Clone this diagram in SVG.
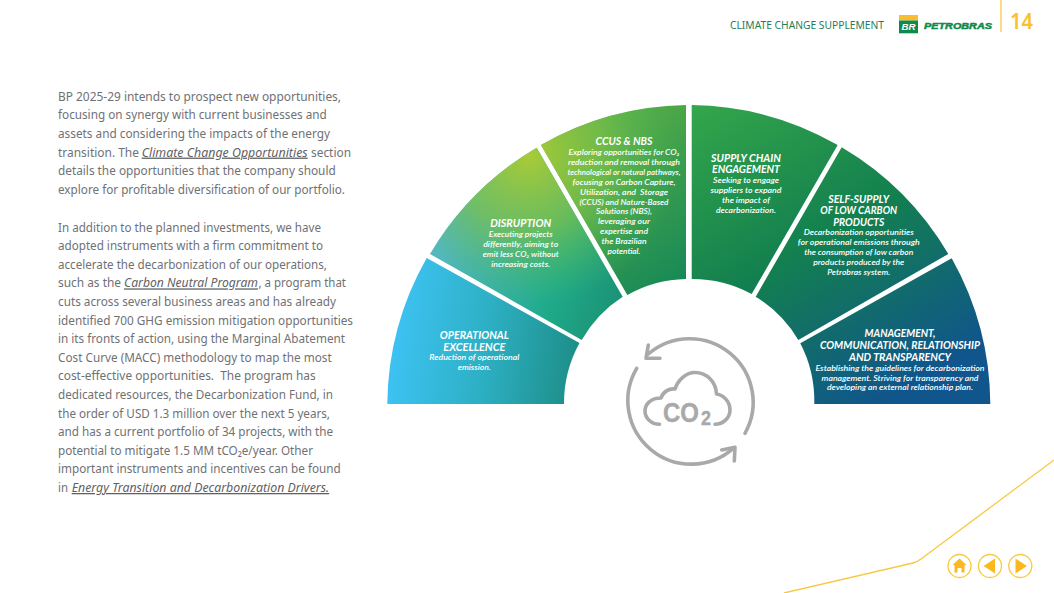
<svg xmlns="http://www.w3.org/2000/svg" width="1054" height="593" viewBox="0 0 1054 593">
<style>
.b{font:400 12.8px "Noto Sans",sans-serif;fill:#6f7174;white-space:pre}
.l{font-style:italic;text-decoration:underline;fill:#5f6164}
.t{font:italic 700 10.5px Lato,sans-serif;fill:#fff;text-anchor:middle}
.d{font:italic 600 8.2px Lato,sans-serif;fill:#fff;text-anchor:middle;white-space:pre}
.y{fill:none;stroke:#f6c93f;stroke-width:1.3}
.g{fill:none;stroke:#a9a9a9;stroke-width:3.6;stroke-linecap:round;stroke-linejoin:round}
.c{font-family:"Liberation Sans",sans-serif;font-weight:700;fill:#a9a9a9}
.i{fill:#fbb91f}
</style>
<defs>
<linearGradient id="g1" gradientUnits="userSpaceOnUse" x1="395" y1="370" x2="585" y2="395"><stop offset="0" stop-color="#3cc1f0"/><stop offset=".45" stop-color="#2db0c4"/><stop offset="1" stop-color="#1b8a80"/></linearGradient>
<linearGradient id="g2" gradientUnits="userSpaceOnUse" x1="435" y1="255" x2="620" y2="325"><stop offset="0" stop-color="#55b8d2"/><stop offset=".62" stop-color="#1fab8b"/><stop offset="1" stop-color="#1b8f72"/></linearGradient>
<linearGradient id="g3" gradientUnits="userSpaceOnUse" x1="590" y1="130" x2="690" y2="285"><stop offset="0" stop-color="#55ac45"/><stop offset="1" stop-color="#158858"/></linearGradient>
<radialGradient id="ye" gradientUnits="userSpaceOnUse" cx="528" cy="155" r="150"><stop offset="0" stop-color="#a9cb35"/><stop offset=".5" stop-color="#7cc04a" stop-opacity=".75"/><stop offset="1" stop-color="#4cb85a" stop-opacity="0"/></radialGradient>
<linearGradient id="gr" gradientUnits="userSpaceOnUse" x1="700" y1="105" x2="880" y2="405"><stop offset="0" stop-color="#33a54a"/><stop offset=".5" stop-color="#13804f"/><stop offset="1" stop-color="#10558b"/></linearGradient>
</defs>
<g id="text-block">
<text class="b" x="58" y="100.5" textLength="283" lengthAdjust="spacingAndGlyphs">BP 2025-29 intends to prospect new opportunities,</text>
<text class="b" x="58" y="119.2" textLength="268.7" lengthAdjust="spacingAndGlyphs">focusing on synergy with current businesses and</text>
<text class="b" x="58" y="137.9" textLength="272" lengthAdjust="spacingAndGlyphs">assets and considering the impacts of the energy</text>
<text class="b" x="58" y="156.6" textLength="81" lengthAdjust="spacingAndGlyphs">transition. The</text>
<text class="b l" x="141.7" y="156.6" textLength="166" lengthAdjust="spacingAndGlyphs">Climate Change Opportunities</text>
<text class="b" x="311" y="156.6" textLength="40" lengthAdjust="spacingAndGlyphs">section</text>
<text class="b" x="58" y="175.3" textLength="277.7" lengthAdjust="spacingAndGlyphs">details the opportunities that the company should</text>
<text class="b" x="58" y="194" textLength="287" lengthAdjust="spacingAndGlyphs">explore for profitable diversification of our portfolio.</text>
<text class="b" x="58" y="231.6" textLength="263" lengthAdjust="spacingAndGlyphs">In addition to the planned investments, we have</text>
<text class="b" x="58" y="250.2" textLength="265" lengthAdjust="spacingAndGlyphs">adopted instruments with a firm commitment to</text>
<text class="b" x="58" y="268.8" textLength="269" lengthAdjust="spacingAndGlyphs">accelerate the decarbonization of our operations,</text>
<text class="b" x="58" y="287.4" textLength="63" lengthAdjust="spacingAndGlyphs">such as the</text>
<text class="b l" x="124" y="287.4" textLength="134" lengthAdjust="spacingAndGlyphs">Carbon Neutral Program</text>
<text class="b" x="258.5" y="287.4" textLength="87.5" lengthAdjust="spacingAndGlyphs">, a program that</text>
<text class="b" x="58" y="306" textLength="278" lengthAdjust="spacingAndGlyphs">cuts across several business areas and has already</text>
<text class="b" x="58" y="324.6" textLength="295" lengthAdjust="spacingAndGlyphs">identified 700 GHG emission mitigation opportunities</text>
<text class="b" x="58" y="343.2" textLength="287" lengthAdjust="spacingAndGlyphs">in its fronts of action, using the Marginal Abatement</text>
<text class="b" x="58" y="361.8" textLength="273.7" lengthAdjust="spacingAndGlyphs">Cost Curve (MACC) methodology to map the most</text>
<text class="b" x="58" y="380.4" textLength="257.7" lengthAdjust="spacingAndGlyphs">cost-effective opportunities.  The program has</text>
<text class="b" x="58" y="399" textLength="275" lengthAdjust="spacingAndGlyphs">dedicated resources, the Decarbonization Fund, in</text>
<text class="b" x="58" y="417.6" textLength="272" lengthAdjust="spacingAndGlyphs">the order of USD 1.3 million over the next 5 years,</text>
<text class="b" x="58" y="436.2" textLength="275" lengthAdjust="spacingAndGlyphs">and has a current portfolio of 34 projects, with the</text>
<text class="b" x="58" y="454.8" textLength="255" lengthAdjust="spacingAndGlyphs">potential to mitigate 1.5 MM tCO₂e/year. Other</text>
<text class="b" x="58" y="473.4" textLength="282.7" lengthAdjust="spacingAndGlyphs">important instruments and incentives can be found</text>
<text class="b" x="58" y="492" textLength="10" lengthAdjust="spacingAndGlyphs">in</text>
<text class="b l" x="71.7" y="492" textLength="257.5" lengthAdjust="spacingAndGlyphs">Energy Transition and Decarbonization Drivers.</text>
</g>
<g id="node-operational-excellence">
<path fill="url(#g1)" d="M387.3 404A301.5 301.5 0 0 1 426.7 258L579.5 343A125.5 125.5 0 0 0 564 404Z"/>
<text class="t" x="474.3" y="339" textLength="69" lengthAdjust="spacingAndGlyphs">OPERATIONAL</text>
<text class="t" x="474.3" y="351" textLength="62" lengthAdjust="spacingAndGlyphs">EXCELLENCE</text>
<text class="d" x="474.3" y="360" textLength="90" lengthAdjust="spacingAndGlyphs">Reduction of operational</text>
<text class="d" x="474.3" y="370" textLength="33" lengthAdjust="spacingAndGlyphs">emission.</text>
</g>
<g id="node-disruption">
<path fill="url(#g2)" d="M430 254A301.5 301.5 0 0 1 536.7 147.7L622.7 296.7A125.5 125.5 0 0 0 581.7 340Z"/>
<path fill="url(#ye)" d="M430 254A301.5 301.5 0 0 1 536.7 147.7L622.7 296.7A125.5 125.5 0 0 0 581.7 340Z"/>
<text class="t" x="520.7" y="226.7" textLength="61" lengthAdjust="spacingAndGlyphs">DISRUPTION</text>
<text class="d" x="520.7" y="237" textLength="64" lengthAdjust="spacingAndGlyphs">Executing projects</text>
<text class="d" x="520.7" y="246.8" textLength="75" lengthAdjust="spacingAndGlyphs">differently, aiming to</text>
<text class="d" x="520.7" y="256.8" textLength="76" lengthAdjust="spacingAndGlyphs">emit less CO₂ without</text>
<text class="d" x="520.7" y="266.7" textLength="59" lengthAdjust="spacingAndGlyphs">increasing costs.</text>
</g>
<g id="node-ccus-nbs">
<path fill="url(#g3)" d="M541 145A301.5 301.5 0 0 1 686 105V279A125.5 125.5 0 0 0 627.3 295Z"/>
<path fill="url(#ye)" d="M541 145A301.5 301.5 0 0 1 686 105V279A125.5 125.5 0 0 0 627.3 295Z"/>
<text class="t" x="624" y="145" textLength="57" lengthAdjust="spacingAndGlyphs">CCUS &amp; NBS</text>
<text class="d" x="624" y="155" textLength="111" lengthAdjust="spacingAndGlyphs">Exploring opportunities for CO₂</text>
<text class="d" x="624" y="165" textLength="112" lengthAdjust="spacingAndGlyphs">reduction and removal through</text>
<text class="d" x="624" y="174.8" textLength="113" lengthAdjust="spacingAndGlyphs">technological or natural pathways,</text>
<text class="d" x="624" y="184.7" textLength="103" lengthAdjust="spacingAndGlyphs">focusing on Carbon Capture,</text>
<text class="d" x="624" y="194.6" textLength="88" lengthAdjust="spacingAndGlyphs">Utilization, and  Storage</text>
<text class="d" x="624" y="204.5" textLength="89" lengthAdjust="spacingAndGlyphs">(CCUS) and Nature-Based</text>
<text class="d" x="624" y="214.4" textLength="56" lengthAdjust="spacingAndGlyphs">Solutions (NBS),</text>
<text class="d" x="624" y="224.3" textLength="52" lengthAdjust="spacingAndGlyphs">leveraging our</text>
<text class="d" x="624" y="234.2" textLength="48" lengthAdjust="spacingAndGlyphs">expertise and</text>
<text class="d" x="624" y="244.1" textLength="45" lengthAdjust="spacingAndGlyphs">the Brazilian</text>
<text class="d" x="624" y="254" textLength="33" lengthAdjust="spacingAndGlyphs">potential.</text>
</g>
<g id="node-supply-chain">
<path fill="url(#gr)" d="M691.7 105A301.5 301.5 0 0 1 837.7 145L751.7 294A125.5 125.5 0 0 0 691.7 279Z"/>
<text class="t" x="746" y="161.7" textLength="70" lengthAdjust="spacingAndGlyphs">SUPPLY CHAIN</text>
<text class="t" x="746" y="173.3" textLength="68" lengthAdjust="spacingAndGlyphs">ENGAGEMENT</text>
<text class="d" x="746" y="182.7" textLength="66" lengthAdjust="spacingAndGlyphs">Seeking to engage</text>
<text class="d" x="746" y="192.7" textLength="71" lengthAdjust="spacingAndGlyphs">suppliers to expand</text>
<text class="d" x="746" y="202.7" textLength="48" lengthAdjust="spacingAndGlyphs">the impact of</text>
<text class="d" x="746" y="212.7" textLength="60" lengthAdjust="spacingAndGlyphs">decarbonization.</text>
</g>
<g id="node-self-supply">
<path fill="url(#gr)" d="M841.7 147.3A301.5 301.5 0 0 1 948.3 254L798.3 340A125.5 125.5 0 0 0 755.7 296.7Z"/>
<text class="t" x="858.7" y="202.7" textLength="61" lengthAdjust="spacingAndGlyphs">SELF-SUPPLY</text>
<text class="t" x="858.7" y="214" textLength="77" lengthAdjust="spacingAndGlyphs">OF LOW CARBON</text>
<text class="t" x="858.7" y="226" textLength="51" lengthAdjust="spacingAndGlyphs">PRODUCTS</text>
<text class="d" x="858.7" y="235" textLength="110" lengthAdjust="spacingAndGlyphs">Decarbonization opportunities</text>
<text class="d" x="858.7" y="245" textLength="122" lengthAdjust="spacingAndGlyphs">for operational emissions through</text>
<text class="d" x="858.7" y="255" textLength="109" lengthAdjust="spacingAndGlyphs">the consumption of low carbon</text>
<text class="d" x="858.7" y="264.7" textLength="91" lengthAdjust="spacingAndGlyphs">products produced by the</text>
<text class="d" x="858.7" y="274.5" textLength="63" lengthAdjust="spacingAndGlyphs">Petrobras system.</text>
</g>
<g id="node-management">
<path fill="url(#gr)" d="M951.7 258.3A301.5 301.5 0 0 1 990.3 404H814.3A125.5 125.5 0 0 0 800.3 343.3Z"/>
<text class="t" x="900" y="337.3" textLength="71" lengthAdjust="spacingAndGlyphs">MANAGEMENT,</text>
<text class="t" x="900" y="349" textLength="160" lengthAdjust="spacingAndGlyphs">COMMUNICATION, RELATIONSHIP</text>
<text class="t" x="900" y="360.7" textLength="102" lengthAdjust="spacingAndGlyphs">AND TRANSPARENCY</text>
<text class="d" x="900" y="370.7" textLength="169" lengthAdjust="spacingAndGlyphs">Establishing the guidelines for decarbonization</text>
<text class="d" x="900" y="380.5" textLength="157" lengthAdjust="spacingAndGlyphs">management. Striving for transparency and</text>
<text class="d" x="900" y="390" textLength="146" lengthAdjust="spacingAndGlyphs">developing an external relationship plan.</text>
</g>
<g id="node-co2">
<path class="g" d="M745 433.3A63.5 63.5 0 0 0 648.3 354"/>
<path class="g" d="M648.3 345L646 358.3L660 358.3"/>
<path class="g" d="M636.7 368.3A63.5 63.5 0 0 0 733.3 448.3"/>
<path class="g" d="M721.7 450L735 447.3L734.3 461"/>
<path class="g" d="M659.5 424.3C651 424.3 645 418 645 411C645 404 651 398 661 398C663 392 669 388 675 389C678 380 686 372.5 695 372.5C707 372.5 716 382 716.5 394C724 395 730 402 730 410C730 418 723 424.3 715 424.3"/>
<text class="c" font-size="27" stroke="#a9a9a9" stroke-width=".4"><tspan x="663" y="421.7" textLength="36" lengthAdjust="spacingAndGlyphs">CO</tspan><tspan x="701" y="425" font-size="20" textLength="10" lengthAdjust="spacingAndGlyphs">2</tspan></text>
</g>
<g id="header">
<text x="730" y="29" font-family="'Noto Sans',sans-serif" font-size="11.5" fill="#1f7d5c" textLength="154" lengthAdjust="spacingAndGlyphs">CLIMATE CHANGE SUPPLEMENT</text>
<rect x="899" y="15" width="19" height="5.5" fill="#f9bd2d"/>
<rect x="899" y="20.5" width="19" height="12.8" fill="#0e8a4a"/>
<text x="901.5" y="29.5" font-family="'Liberation Sans',sans-serif" font-weight="700" font-style="italic" font-size="9.5" fill="#fff" textLength="14" lengthAdjust="spacingAndGlyphs">BR</text>
<text x="924" y="28.5" font-family="'Liberation Sans',sans-serif" font-weight="700" font-style="italic" font-size="9.5" fill="#0e8a4a" textLength="68" lengthAdjust="spacingAndGlyphs" stroke="#0e8a4a" stroke-width=".5">PETROBRAS</text>
<path d="M1001 0V32" stroke="#f9c33a" stroke-width="1.2" fill="none"/>
<text x="1010" y="29" font-family="'Noto Sans',sans-serif" font-size="21" font-weight="600" fill="#fbc02d" textLength="23" lengthAdjust="spacingAndGlyphs">14</text>
</g>
<g id="footer">
<path class="y" d="M784 593L913 563Q917 562 921 559L1054 460"/>
<circle class="y" cx="959.5" cy="566" r="11.5"/>
<circle class="y" cx="990" cy="566" r="11.5"/>
<circle class="y" cx="1020.3" cy="566" r="11.5"/>
<path class="i" d="M959.5 558.5L966.5 565H964.5V572.5H961.5V568H957.5V572.5H954.5V565H952.5Z"/>
<path class="i" d="M983.5 566L995 558.5V573.5Z"/>
<path class="i" d="M1027 566L1015.5 558.5V573.5Z"/>
</g>
</svg>
